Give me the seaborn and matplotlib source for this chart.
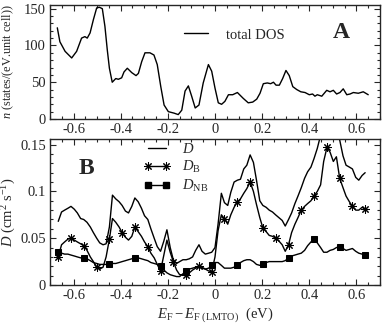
import numpy as np
import matplotlib
matplotlib.use("Agg")
import matplotlib.pyplot as plt
from matplotlib.lines import Line2D
from matplotlib.ticker import MultipleLocator
import seaborn as sns

# panel A: total density of states
energy_a = [-0.669, -0.658, -0.636, -0.608, -0.587, -0.566, -0.552, -0.542, -0.530, -0.516,
            -0.502, -0.491, -0.478, -0.467, -0.457, -0.448, -0.436, -0.421, -0.410, -0.396,
            -0.386, -0.372, -0.353, -0.335, -0.325, -0.311, -0.297, -0.276, -0.259, -0.245,
            -0.230, -0.216, -0.198, -0.174, -0.156, -0.141, -0.127, -0.113, -0.099, -0.084,
            -0.068, -0.050, -0.028, -0.014, 0.000, 0.014, 0.028, 0.042, 0.057, 0.075,
            0.095, 0.120, 0.141, 0.160, 0.177, 0.191, 0.205, 0.222, 0.236, 0.248,
            0.259, 0.273, 0.287, 0.301, 0.315, 0.330, 0.347, 0.364, 0.382, 0.400,
            0.414, 0.424, 0.434, 0.453, 0.474, 0.488, 0.502, 0.516, 0.530, 0.544,
            0.559, 0.573, 0.587, 0.608, 0.629, 0.650]
total_dos = [124, 105, 92, 83, 92, 110, 112, 110, 117, 135,
             151, 152, 150, 126, 94, 69, 50, 55, 54, 56,
             64, 69, 63, 59, 62, 78, 90, 90, 87, 74,
             44, 19, 10, 8, 6, 12, 38, 45, 31, 15,
             19, 49, 74, 65, 42, 22, 20, 24, 33, 33,
             36, 28, 22, 23, 27, 35, 48, 49, 48, 50,
             46, 46, 55, 66, 59, 44, 40, 37, 36, 33,
             34, 31, 33, 31, 39, 37, 39, 34, 36, 41,
             33, 34, 36, 35, 37, 33]

# panel B: diffusion coefficients
energy_b = [-0.665, -0.651, -0.638, -0.624, -0.611, -0.597, -0.584, -0.570, -0.557, -0.543,
            -0.529, -0.516, -0.502, -0.489, -0.475, -0.462, -0.448, -0.435, -0.421, -0.407,
            -0.394, -0.380, -0.367, -0.353, -0.340, -0.326, -0.312, -0.299, -0.285, -0.272,
            -0.258, -0.245, -0.231, -0.217, -0.204, -0.190, -0.177, -0.163, -0.150, -0.136,
            -0.122, -0.109, -0.095, -0.082, -0.068, -0.055, -0.041, -0.027, -0.014, 0.000,
            0.013, 0.027, 0.040, 0.054, 0.067, 0.081, 0.095, 0.108, 0.122, 0.135,
            0.149, 0.163, 0.176, 0.190, 0.203, 0.217, 0.230, 0.244, 0.257, 0.271,
            0.285, 0.298, 0.312, 0.325, 0.339, 0.352, 0.366, 0.380, 0.393, 0.407,
            0.420, 0.434, 0.448, 0.461, 0.475, 0.488, 0.502, 0.515, 0.529, 0.543,
            0.556, 0.570, 0.583, 0.597, 0.610, 0.624, 0.637]
d_total = [0.068, 0.078, 0.080, 0.082, 0.084, 0.081, 0.077, 0.071, 0.070, 0.067,
           0.062, 0.056, 0.050, 0.045, 0.043, 0.044, 0.062, 0.096, 0.092, 0.089,
           0.085, 0.079, 0.077, 0.084, 0.093, 0.089, 0.082, 0.074, 0.070, 0.060,
           0.050, 0.041, 0.036, 0.047, 0.059, 0.040, 0.027, 0.023, 0.025, 0.027,
           0.027, 0.028, 0.030, 0.037, 0.043, 0.036, 0.033, 0.034, 0.035, 0.040,
           0.065, 0.098, 0.088, 0.085, 0.099, 0.110, 0.112, 0.113, 0.124, 0.128,
           0.139, 0.131, 0.112, 0.090, 0.085, 0.083, 0.080, 0.078, 0.075, 0.072,
           0.069, 0.063, 0.070, 0.077, 0.087, 0.095, 0.104, 0.114, 0.121, 0.126,
           0.135, 0.146, 0.160, 0.168, 0.172, 0.174, 0.170, 0.164, 0.155, 0.138,
           0.128, 0.126, 0.124, 0.115, 0.112, 0.117, 0.120]
d_b = [0.030, 0.043, 0.046, 0.049, 0.050, 0.048, 0.046, 0.044, 0.042, 0.037,
       0.030, 0.025, 0.019, 0.017, 0.019, 0.030, 0.049, 0.071, 0.067, 0.062,
       0.056, 0.051, 0.048, 0.052, 0.062, 0.057, 0.052, 0.046, 0.041, 0.034,
       0.029, 0.022, 0.015, 0.032, 0.048, 0.035, 0.025, 0.016, 0.011, 0.011,
       0.011, 0.013, 0.016, 0.018, 0.020, 0.019, 0.017, 0.015, 0.014, 0.030,
       0.058, 0.075, 0.071, 0.065, 0.075, 0.083, 0.089, 0.092, 0.098, 0.103,
       0.110, 0.100, 0.086, 0.072, 0.061, 0.057, 0.053, 0.052, 0.050, 0.047,
       0.043, 0.036, 0.043, 0.056, 0.065, 0.072, 0.080, 0.084, 0.087, 0.090,
       0.095, 0.100, 0.107, 0.132, 0.147, 0.142, 0.132, 0.137, 0.114, 0.104,
       0.095, 0.089, 0.084, 0.080, 0.080, 0.083, 0.081]
d_nb = [0.035, 0.034, 0.033, 0.033, 0.032, 0.031, 0.030, 0.029, 0.029, 0.028,
        0.026, 0.024, 0.023, 0.022, 0.022, 0.022, 0.022, 0.023, 0.023, 0.024,
        0.025, 0.026, 0.027, 0.028, 0.029, 0.029, 0.028, 0.027, 0.026, 0.024,
        0.023, 0.022, 0.020, 0.016, 0.013, 0.011, 0.010, 0.009, 0.009, 0.012,
        0.015, 0.017, 0.018, 0.019, 0.019, 0.018, 0.017, 0.018, 0.021, 0.024,
        0.024, 0.021, 0.018, 0.018, 0.018, 0.019, 0.021, 0.024, 0.026, 0.027,
        0.027, 0.025, 0.022, 0.021, 0.022, 0.024, 0.025, 0.025, 0.025, 0.025,
        0.025, 0.026, 0.029, 0.031, 0.032, 0.033, 0.034, 0.037, 0.042, 0.046,
        0.049, 0.045, 0.040, 0.035, 0.035, 0.037, 0.038, 0.040, 0.041, 0.039,
        0.037, 0.038, 0.039, 0.036, 0.034, 0.033, 0.032]

x_ticks = [-0.6, -0.4, -0.2, 0.0, 0.2, 0.4, 0.6]
x_tick_labels = ["-0.6", "-0.4", "-0.2", "0", "0.2", "0.4", "0.6"]
a_y_ticks = [0, 50, 100, 150]
a_y_tick_labels = ["0", "50", "100", "150"]
b_y_ticks = [0, 0.05, 0.1, 0.15]
b_y_tick_labels = ["0", "0.05", "0.1", "0.15"]

sns.set_style("ticks")
plt.rcParams["font.family"] = ["Liberation Serif", "DejaVu Serif"]
plt.rcParams["mathtext.fontset"] = "custom"
plt.rcParams["mathtext.rm"] = "Liberation Serif"
plt.rcParams["mathtext.it"] = "Liberation Serif:italic"
plt.rcParams["mathtext.bf"] = "Liberation Serif:bold"
plt.rcParams["axes.unicode_minus"] = False

fig = plt.figure(figsize=(3.82, 3.28), dpi=100)
ax_a = fig.add_axes([50 / 382, 209 / 328, 330 / 382, 114 / 328])
ax_b = fig.add_axes([50 / 382, 43 / 328, 330 / 382, 146 / 328])

line_kw = dict(color="black", linewidth=1.0)
star_kw = dict(marker=(8, 2, 0), markersize=6, markeredgewidth=0.75, markeredgecolor="black")
square_kw = dict(marker="s", markersize=4, markeredgecolor="black", markerfacecolor="black")

sns.lineplot(x=energy_a, y=total_dos, ax=ax_a, **line_kw)

sns.lineplot(x=energy_b, y=d_total, ax=ax_b, **line_kw)
sns.lineplot(x=energy_b, y=d_b, ax=ax_b, markevery=4, **star_kw, **line_kw)
sns.lineplot(x=energy_b, y=d_nb, ax=ax_b, markevery=8, **square_kw, **line_kw)

for ax in (ax_a, ax_b):
    ax.set_xlim(-0.7, 0.7)
    ax.set_xticks(x_ticks)
    ax.set_xticklabels(x_tick_labels)
    ax.xaxis.set_minor_locator(MultipleLocator(0.05))
    ax.tick_params(which="both", direction="in", top=True, right=True,
                   labelsize=10.5, width=0.8, pad=3)
    ax.tick_params(which="major", length=4.5)
    ax.tick_params(which="minor", length=2.5)
    for s in ax.spines.values():
        s.set_linewidth(1.0)

ax_a.set_ylim(0, 155)
ax_a.set_yticks(a_y_ticks)
ax_a.set_yticklabels(a_y_tick_labels)
ax_a.yaxis.set_minor_locator(MultipleLocator(10))
ax_a.set_ylabel(r"$n$ (states/(eV.unit cell))", fontsize=8.8)
ax_a.yaxis.set_label_coords(-0.102, 0.5)
ax_a.text(0.882, 0.76, "A", transform=ax_a.transAxes, fontsize=17,
          fontweight="bold", ha="center", va="center")
ax_a.legend([Line2D([0], [0], **line_kw)], ["total DOS"], frameon=False,
            loc="center left", bbox_to_anchor=(0.405, 0.737), fontsize=10.5,
            handlelength=1.7, handletextpad=1.2, borderpad=0, borderaxespad=0)

ax_b.set_ylim(0, 0.156)
ax_b.set_yticks(b_y_ticks)
ax_b.set_yticklabels(b_y_tick_labels)
ax_b.yaxis.set_minor_locator(MultipleLocator(0.01))
ax_b.set_ylabel(r"$D$ (cm$^{2}$ s$^{-1}$)", fontsize=10.5)
ax_b.yaxis.set_label_coords(-0.098, 0.5)
ax_b.set_xlabel(r"$E_{\rm F} - E_{\rm F\ (LMTO)}$  (eV)", fontsize=10.5, labelpad=2)
ax_b.text(0.109, 0.80, "B", transform=ax_b.transAxes, fontsize=17,
          fontweight="bold", ha="center", va="center")

handles = [
    Line2D([0], [0], **line_kw),
    Line2D([0], [0], **star_kw, **line_kw),
    Line2D([0], [0], **square_kw, **line_kw),
]
ax_b.legend(handles, [r"$D$", r"$D_{\rm B}$", r"$D_{\rm NB}$"], frameon=False,
            loc="center left", bbox_to_anchor=(0.285, 0.80), fontsize=10.5,
            numpoints=2, handlelength=1.8, handletextpad=0.8, labelspacing=0.2,
            borderpad=0, borderaxespad=0)

fig.savefig("out.png", dpi=100)
plt.close(fig)
